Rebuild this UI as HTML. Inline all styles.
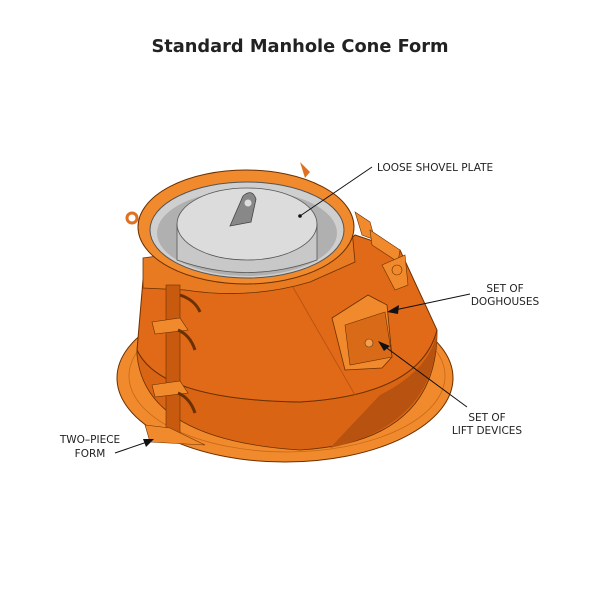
<!DOCTYPE html>
<html><head><style>
html,body{margin:0;padding:0;background:#fff;}
body{width:600px;height:600px;position:relative;overflow:hidden;font-family:"Liberation Sans",sans-serif;}
</style></head><body>
<svg width="600" height="600" viewBox="0 0 600 600" xmlns="http://www.w3.org/2000/svg">
<text x="300" y="52" text-anchor="middle" font-family="DejaVu Sans" font-weight="bold" font-size="17.8" fill="#222">Standard Manhole Cone Form</text>
<!-- base flange -->
<ellipse cx="285" cy="378" rx="168" ry="84" fill="#f08a2c" stroke="#6b3000" stroke-width="1"/>
<ellipse cx="287" cy="376" rx="158" ry="76" fill="none" stroke="#c86818" stroke-width="0.8"/>
<!-- lower band -->
<path d="M137 350 L137 355 Q145 440 300 450 Q435 442 437 335 L437 330 Q420 395 300 402 Q160 400 137 350 Z" fill="#d86414" stroke="#6b3000" stroke-width="0.8"/>
<path d="M380 395 Q430 370 437 332 L437 338 Q432 425 330 448 Z" fill="#b85210"/>
<!-- upper cone -->
<path d="M143 280 L137 350 Q160 400 300 402 Q420 395 437 330 L400 250 L355 235 Q300 290 143 280 Z" fill="#e06a18" stroke="#6b3000" stroke-width="1"/>
<line x1="290" y1="282" x2="355" y2="395" stroke="#b85010" stroke-width="0.8"/>
<!-- top ring -->
<path d="M143 258 L143 288 L185 290 Q250 300 310 282 L355 262 L352 230 Z" fill="#e87a22" stroke="#6b3000" stroke-width="0.8"/>
<ellipse cx="246" cy="227" rx="108" ry="57" fill="#f08a2c" stroke="#6b3000" stroke-width="1"/>
<ellipse cx="247" cy="230" rx="97" ry="48" fill="#cfcfcf" stroke="#555" stroke-width="1"/>
<ellipse cx="247" cy="233" rx="90" ry="43" fill="#b0b0b0"/>
<!-- gray plate -->
<path d="M177 224 L177 260 Q247 285 317 260 L317 224 Z" fill="#c8c8c8" stroke="#555" stroke-width="0.8"/>
<ellipse cx="247" cy="224" rx="70" ry="36" fill="#dcdcdc" stroke="#555" stroke-width="0.8"/>
<path d="M230 226 L243 196 Q252 188 256 199 L251 222 Z" fill="#888" stroke="#444" stroke-width="0.8"/>
<circle cx="248" cy="203" r="3.5" fill="#ddd"/>
<!-- lugs -->
<circle cx="132" cy="218" r="5" fill="none" stroke="#e07020" stroke-width="3"/>
<path d="M300 162 L310 172 L305 178 Z" fill="#e07020"/>
<g fill="#f08a2c" stroke="#6b3000" stroke-width="0.6">
<path d="M355 212 L370 222 L375 240 L362 235 Z"/>
<path d="M370 230 L400 250 L398 262 L372 245 Z"/>
<path d="M382 265 L405 255 L408 285 L395 290 Z"/>
<circle cx="397" cy="270" r="5"/>
</g>
<!-- doghouse -->
<path d="M332 318 L368 295 L387 305 L392 357 L382 368 L345 370 Z" fill="#f08a2c" stroke="#6b3000" stroke-width="0.8"/>
<path d="M345 325 L385 312 L392 357 L350 365 Z" fill="#d86a18" stroke="#6b3000" stroke-width="0.6"/>
<circle cx="369" cy="343" r="4" fill="#f0a050" stroke="#6b3000" stroke-width="0.6"/>
<!-- seam / latches -->
<rect x="166" y="285" width="14" height="155" fill="#c85a10" stroke="#6b3000" stroke-width="0.6"/>
<g fill="#f08a2c" stroke="#6b3000" stroke-width="0.6">
<path d="M152 322 L180 318 L188 330 L155 334 Z"/><path d="M178 330 Q190 335 195 350" fill="none" stroke-width="3"/>
<path d="M152 385 L180 381 L188 393 L155 397 Z"/><path d="M178 393 Q190 398 195 413" fill="none" stroke-width="3"/>
<path d="M145 425 L170 428 L205 445 L150 442 Z"/>
<path d="M180 295 Q195 300 200 312" fill="none" stroke-width="3"/>
</g>
<!-- leaders -->
<g stroke="#111" stroke-width="1" fill="none">
<line x1="300" y1="216" x2="372" y2="167"/>
<line x1="390" y1="311" x2="470" y2="294"/>
<line x1="380" y1="343" x2="467" y2="407"/>
<line x1="115" y1="453" x2="150" y2="441"/>
</g>
<circle cx="300" cy="216" r="1.8" fill="#111"/>
<g fill="#111">
<path d="M387 312 L399 305 L398 314 Z"/>
<path d="M378 341 L390 346 L384 351 Z"/>
<path d="M154 439 L143 439 L146 447 Z"/>
</g>
<g font-family="DejaVu Sans" font-size="10.5" fill="#222">
<text x="377" y="171">LOOSE SHOVEL PLATE</text>
<text x="505" y="292" text-anchor="middle">SET OF</text>
<text x="505" y="305" text-anchor="middle">DOGHOUSES</text>
<text x="487" y="421" text-anchor="middle">SET OF</text>
<text x="487" y="434" text-anchor="middle">LIFT DEVICES</text>
<text x="90" y="443" text-anchor="middle">TWO–PIECE</text>
<text x="90" y="457" text-anchor="middle">FORM</text>
</g>
</svg>
</body></html>
